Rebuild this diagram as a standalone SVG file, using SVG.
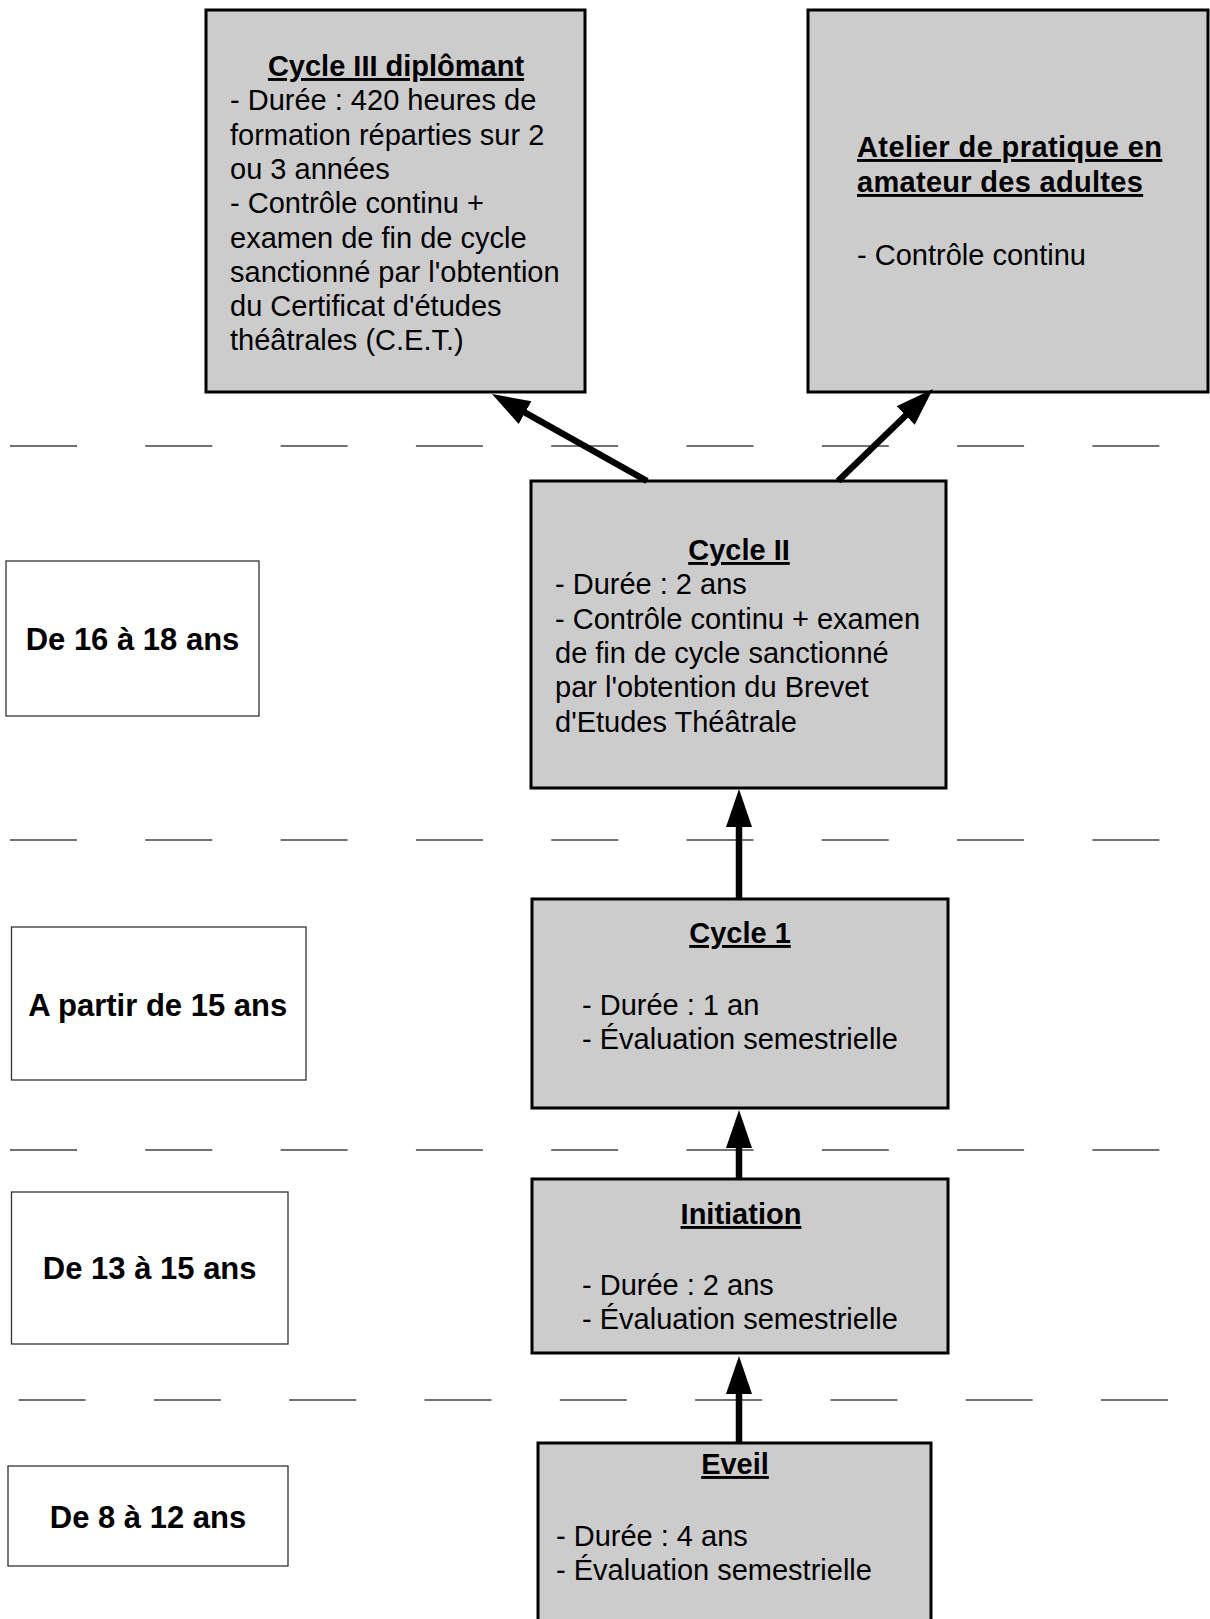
<svg xmlns="http://www.w3.org/2000/svg" width="1210" height="1619" viewBox="0 0 1210 1619">
<style>
.box{fill:#cccccc;stroke:#000;stroke-width:3}
.age{fill:#fff;stroke:#333;stroke-width:1.3}
.t{font-family:"Liberation Sans",Arial,sans-serif;font-size:29px;fill:#000}
.h{font-family:"Liberation Sans",Arial,sans-serif;font-size:29px;font-weight:bold;fill:#000;text-decoration:underline}
.a{font-family:"Liberation Sans",Arial,sans-serif;font-size:31px;font-weight:bold;fill:#000;text-anchor:middle}
.dash{stroke:#444;stroke-width:1.5;stroke-dasharray:67 68.3;fill:none}
.arr{stroke:#000;stroke-width:6.5;fill:none;marker-end:url(#ah)}
</style>
<defs>
<marker id="ah" markerUnits="userSpaceOnUse" markerWidth="40" markerHeight="28" refX="18" refY="13" orient="auto">
<path d="M0,0 L38,13 L0,26 z" fill="#000"/>
</marker>
</defs>
<g id="separators">
<line class="dash" x1="10" y1="446" x2="1160" y2="446"/>
<line class="dash" x1="10" y1="840" x2="1160" y2="840"/>
<line class="dash" x1="10" y1="1150" x2="1160" y2="1150"/>
<line class="dash" x1="18.6" y1="1400" x2="1169" y2="1400"/>
</g>
<g id="cycle3">
<rect class="box" x="206" y="10" width="379" height="382"/>
<text class="h" x="396" y="76" text-anchor="middle">Cycle III diplômant</text>
<text class="t" x="230"><tspan x="230" y="110.3">- Durée : 420 heures de</tspan><tspan x="230" y="144.6">formation réparties sur 2</tspan><tspan x="230" y="178.9">ou 3 années</tspan><tspan x="230" y="213.2">- Contrôle continu +</tspan><tspan x="230" y="247.5">examen de fin de cycle</tspan><tspan x="230" y="281.8">sanctionné par l'obtention</tspan><tspan x="230" y="316.1">du Certificat d'études</tspan><tspan x="230" y="350.4">théâtrales (C.E.T.)</tspan></text>
</g>
<g id="atelier">
<rect class="box" x="808" y="10" width="400" height="382"/>
<text class="h" x="857" y="157" letter-spacing="0.4">Atelier de pratique en</text>
<text class="h" x="857" y="192" letter-spacing="0.3">amateur des adultes</text>
<text class="t" x="857" y="265">- Contrôle continu</text>
</g>
<g id="cycle2">
<rect class="box" x="531" y="481" width="415" height="307"/>
<text class="h" x="739" y="560" text-anchor="middle">Cycle II</text>
<text class="t"><tspan x="555" y="594.3">- Durée : 2 ans</tspan><tspan x="555" y="628.6">- Contrôle continu + examen</tspan><tspan x="555" y="662.9">de fin de cycle sanctionné</tspan><tspan x="555" y="697.2">par l'obtention du Brevet</tspan><tspan x="555" y="731.5">d'Etudes Théâtrale</tspan></text>
</g>
<g id="cycle1">
<rect class="box" x="532" y="899" width="416" height="209"/>
<text class="h" x="740" y="943" text-anchor="middle">Cycle 1</text>
<text class="t"><tspan x="582" y="1015">- Durée : 1 an</tspan><tspan x="582" y="1049">- Évaluation semestrielle</tspan></text>
</g>
<g id="initiation">
<rect class="box" x="532" y="1179" width="416" height="174"/>
<text class="h" x="741" y="1224" text-anchor="middle">Initiation</text>
<text class="t"><tspan x="582" y="1295">- Durée : 2 ans</tspan><tspan x="582" y="1329">- Évaluation semestrielle</tspan></text>
</g>
<g id="eveil">
<rect class="box" x="538" y="1443" width="393" height="190"/>
<text class="h" x="735" y="1474" text-anchor="middle">Eveil</text>
<text class="t"><tspan x="556" y="1545.5">- Durée : 4 ans</tspan><tspan x="556" y="1580">- Évaluation semestrielle</tspan></text>
</g>
<g id="age16">
<rect class="age" x="6" y="561" width="253" height="155"/>
<text class="a" x="132.5" y="650">De 16 à 18 ans</text>
</g>
<g id="age15">
<rect class="age" x="11.5" y="927" width="294.5" height="153"/>
<text class="a" x="157.7" y="1016">A partir de 15 ans</text>
</g>
<g id="age13">
<rect class="age" x="11.5" y="1192" width="276.5" height="152"/>
<text class="a" x="149.7" y="1279">De 13 à 15 ans</text>
</g>
<g id="age8">
<rect class="age" x="8" y="1466" width="280" height="100"/>
<text class="a" x="148" y="1528">De 8 à 12 ans</text>
</g>
<g id="connectors">
<line class="arr" x1="647" y1="481" x2="509.4" y2="403.8"/>
<line class="arr" x1="838" y1="481" x2="918.6" y2="403"/>
<line class="arr" x1="739" y1="899" x2="739" y2="809"/>
<line class="arr" x1="739" y1="1179" x2="739" y2="1130"/>
<line class="arr" x1="739" y1="1443" x2="739" y2="1376"/>
</g>
</svg>
